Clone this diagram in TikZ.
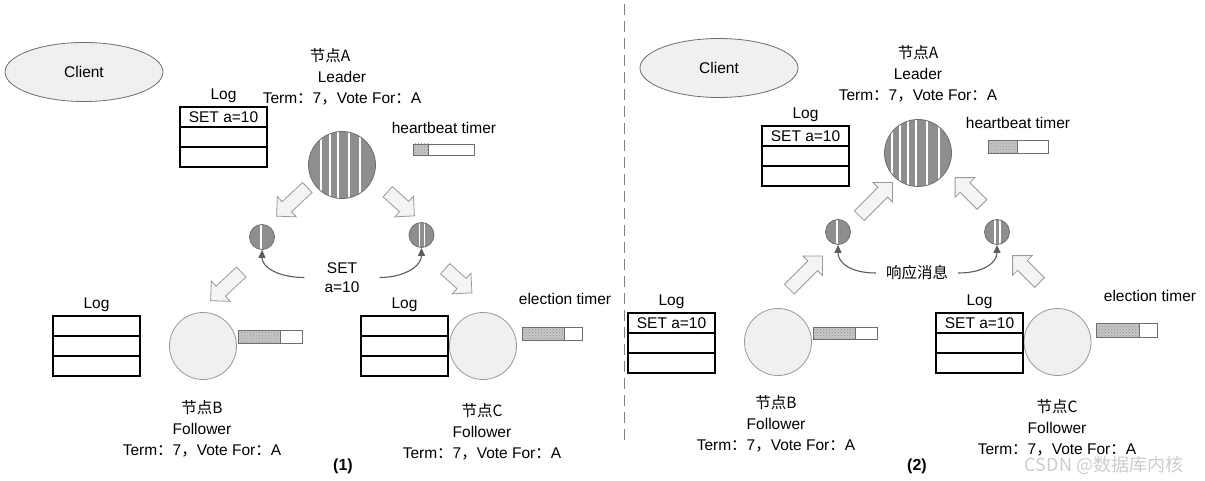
\documentclass[tikz,border=0pt]{standalone}
\usepackage{fontspec}
\setmainfont{Liberation Sans}
\newfontfamily\cjk{Noto Sans CJK SC}
\usetikzlibrary{arrows.meta,positioning,patterns,shapes.geometric,shapes.arrows}

\definecolor{leadgray}{HTML}{8E8E8E}
\definecolor{edgegray}{HTML}{6E6E6E}
\definecolor{softgray}{HTML}{F0F0F0}
\definecolor{linegray}{HTML}{5C5C5C}

\newcommand{\zh}[1]{{\cjk #1}}
\newcommand{\termvote}{Term\zh{：}7\zh{，}Vote For\zh{：}A}

\tikzset{
  txt/.style={font=\fontsize{15.5}{21}\selectfont, inner sep=0pt},
  client/.style={ellipse, draw=edgegray, fill=softgray, minimum width=158pt,
    minimum height=59pt, line width=0.8pt, txt},
  logrow/.style={draw, line width=1.4pt, minimum width=87pt, minimum height=20pt,
    inner sep=0pt, outer sep=0pt, font=\fontsize{15.5}{18}\selectfont},
  leader/.style={circle, draw=edgegray, fill=leadgray, minimum size=67pt, inner sep=0pt,
    line width=0.8pt,
    path picture={\foreach \dx in {#1}
      \draw[white, line width=1.4pt]
        ([xshift=\dx pt]path picture bounding box.north) --
        ([xshift=\dx pt]path picture bounding box.south);}},
  packet/.style={leader={#1}, minimum size=25pt},
  follower/.style={circle, draw=gray!80, fill=softgray, minimum size=67pt,
    inner sep=0pt, line width=0.8pt},
  bigarrow/.style={single arrow, draw=gray!80, fill=softgray!70, line width=0.8pt,
    minimum height=#1, inner xsep=0pt, inner ysep=6.5pt,
    single arrow head extend=7pt},
  reply/.style={-{Triangle[length=8pt,width=7pt]}, draw=linegray, line width=1.1pt},
}

\begin{document}
\begin{tikzpicture}[x=1pt,y=-1pt]
  \useasboundingbox[fill=white] (0,0) rectangle (1205,481);

  % 分隔线
  \draw[gray, line width=1pt, dash pattern=on 11pt off 6pt] (624,4) -- (624,444);

  % ---------- (1) ----------
  \node[client] (cli1) at (84,72) {Client};
  \node[txt, align=center] (lblA1) at (342,77) {\zh{节点A}\hspace*{24pt}\\Leader\\\termvote};
  \node[leader={-21,-12,-4,7,18}] (nA1) at (342,165) {};
  \node[txt] (hb1) at (444,128) {heartbeat timer};

  \node[packet={-1}] (p1) at (262,237) {};
  \node[packet={-2,3}] (q1) at (421.5,235) {};

  \node[bigarrow=42pt, rotate=223] (ar1) at (294.5,199.5) {};
  \node[bigarrow=36pt, rotate=-42] (ar2) at (398.5,201.5) {};
  \node[bigarrow=42pt, rotate=223] (ar3) at (228.5,284) {};
  \node[bigarrow=36pt, rotate=-42] (ar4) at (456,278.5) {};

  \node[txt, align=center, font=\fontsize{15.5}{19}\selectfont] (msg1) at (342,277.5) {SET\\a=10};
  \draw[reply] ([xshift=-20pt]msg1.west) .. controls +(-25,0) and +(0,18) .. (p1.south);
  \draw[reply] ([xshift=20pt]msg1.east) .. controls +(25,0) and +(0,18) .. (q1.south);

  \node[follower] (nB1) at (203,346) {};
  \node[txt, align=center] (lblB1) at (202,429) {\zh{节点B}\\Follower\\\termvote};
  \node[follower] (nC1) at (483,346) {};
  \node[txt, align=center] (lblC1) at (482,432) {\zh{节点C}\\Follower\\\termvote};
  \node[txt] (el1) at (565,299) {election timer};

  \node[txt, font=\bfseries\fontsize{16}{18}\selectfont] (cap1) at (343,466) {(1)};

  % ---------- (2) ----------
  \node[client] (cli2) at (719,68) {Client};
  \node[txt, align=center] (lblA2) at (918,74) {\zh{节点A}\\Leader\\\termvote};
  \node[leader={-26,-18,-10,-2,9,21}] (nA2) at (918,153) {};
  \node[txt] (hb2) at (1018,123) {heartbeat timer};

  \node[packet={-1}] (p2) at (838,232) {};
  \node[packet={-2,3}] (q2) at (997,232) {};

  \node[bigarrow=47pt, rotate=45] (ar5) at (873.5,201.5) {};
  \node[bigarrow=38pt, rotate=135] (ar6) at (971,193.5) {};
  \node[bigarrow=47pt, rotate=45] (ar7) at (803.5,275) {};
  \node[bigarrow=38pt, rotate=135] (ar8) at (1028.5,271.5) {};

  \node[txt, font=\cjk\fontsize{15.5}{19}\selectfont] (msg2) at (917,273) {响应消息};
  \draw[reply] ([xshift=-10pt]msg2.west) .. controls +(-25,0) and +(0,18) .. (p2.south);
  \draw[reply] ([xshift=10pt]msg2.east) .. controls +(25,0) and +(0,18) .. (q2.south);

  \node[follower] (nB2) at (778,342) {};
  \node[txt, align=center] (lblB2) at (776,424) {\zh{节点B}\\Follower\\\termvote};
  \node[follower] (nC2) at (1057.5,342) {};
  \node[txt, align=center] (lblC2) at (1057,428) {\zh{节点C}\\Follower\\\termvote};
  \node[txt] (el2) at (1150,296) {election timer};

  \node[txt, font=\bfseries\fontsize{16}{18}\selectfont] (cap2) at (917,466) {(2)};

  % 日志
  \foreach \nm/\x/\y/\first in {A1/223.5/117/SET a=10, B1/96.5/326/, C1/404.5/326/,
      A2/805.5/136/SET a=10, B2/671.5/323/SET a=10, C2/979.5/323/SET a=10} {
    \node[logrow] (log\nm a) at (\x,\y) {\first};
    \node[logrow, below=0pt of log\nm a] (log\nm b) {};
    \node[logrow, below=0pt of log\nm b] (log\nm c) {};
    \node[txt, above=4pt of log\nm a] (logt\nm) {Log};
  }

  % 计时器
  \foreach \xa/\xb/\xc/\ya/\yb in {413/428/474/144/155, 238/280/302/330/343,
      522/564/582/327/340, 988/1017/1048/140/153, 813/855/877/327/339,
      1096/1139/1157/323/337} {
    \fill[gray!45] (\xa,\ya) rectangle (\xb,\yb);
    \fill[pattern=crosshatch dots, pattern color=gray!85] (\xa,\ya) rectangle (\xb,\yb);
    \draw[edgegray, line width=0.8pt] (\xa,\ya) rectangle (\xc,\yb);
    \draw[edgegray, line width=0.8pt] (\xb,\ya) -- (\xb,\yb);
  }

  \node[font=\cjk\fontsize{18}{21}\selectfont, text=gray!40, inner sep=0pt] (wm) at (1104,465) {CSDN @数据库内核};
\end{tikzpicture}
\end{document}
